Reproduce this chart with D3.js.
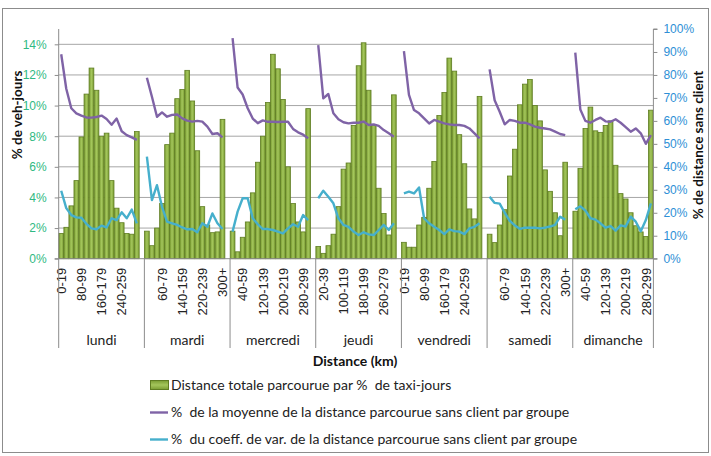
<!DOCTYPE html>
<html><head><meta charset="utf-8">
<script src="https://cdn.jsdelivr.net/npm/d3@7"></script>
<style>
html,body{margin:0;padding:0;background:#fff;}
svg{display:block;font-family:Lato,"Open Sans",sans-serif;}
</style></head>
<body>
<svg id="c" width="711" height="456"></svg>
<script>
// ---------- DATA ----------
const days = ["lundi","mardi","mercredi","jeudi","vendredi","samedi","dimanche"];
const bins = ["0-19","20-39","40-59","60-79","80-99","100-119","120-139","140-159","160-179","180-199","200-219","220-239","240-259","260-279","280-299","300+"];

// Distance totale parcourue par % de taxi-jours (left axis, %)
const distLundi    = [1.65,2.05,3.45,5.1,7.95,10.75,12.45,11.0,8.0,8.2,5.1,3.3,2.35,1.65,1.6,8.3];
const distMardi    = [1.8,0.85,2.0,3.6,7.45,8.2,10.45,11.05,12.3,10.3,7.05,3.4,2.2,1.7,1.75,9.1];
const distMercredi = [1.8,0.45,1.4,2.4,4.3,6.3,8.0,10.2,13.35,12.4,10.4,6.0,3.6,2.4,1.75,9.8];
const distJeudi    = [0.8,0.35,0.85,1.6,3.4,5.85,6.25,8.7,12.6,14.1,11.0,8.7,4.6,2.95,1.55,10.7];
const distVendredi = [1.07,0.75,0.75,2.2,2.7,4.6,6.35,9.35,10.85,13.1,12.25,8.1,6.2,3.25,2.6,10.6];
const distSamedi   = [1.6,1.05,2.2,3.2,5.4,7.15,10.05,11.4,11.7,10.0,9.0,5.8,4.4,3.0,1.5,6.3];
const distDimanche = [3.1,5.9,8.5,9.9,8.35,8.25,8.7,9.0,6.1,4.25,3.9,3.0,2.15,1.75,1.45,9.7];

// % de la moyenne de la distance parcourue sans client par groupe (right axis, %)
const moyLundi    = [89,74,65.5,63.3,62.3,61.5,61.4,61.7,62.3,60.8,58.3,61,55.5,53.8,52.8,51.7];
const moyMardi    = [78.8,70.5,61.8,63.7,61.8,62.6,62.8,61.1,60.1,59.7,60,59.7,57.5,54.3,54.6,52.8];
const moyMercredi = [96,74.5,71.5,65.5,61,59,60.2,59.6,59.6,59.5,59.6,59.6,56.5,55,54,52.4];
const moyJeudi    = [93,69.8,71.7,63.3,60.7,59.4,58.9,59.2,59.2,59.7,58.2,58.5,57.8,56,54.6,53.1];
const moyVendredi = [90.4,71.3,64.7,63.3,61.1,58.9,60.4,59.7,58.9,58.5,58.2,58.2,57.8,56.7,54.6,52.4];
const moySamedi   = [82.4,69,64,58.5,60.4,60,59.2,59.2,58.5,57.5,57,56.7,56.3,55.3,54.3,53.8];
const moyDimanche = [89.7,65,60,59.2,60.4,61.4,59.8,59.6,60.7,59.2,57.3,55.3,56.7,54.6,50,53.8];

// % du coeff. de var. de la distance parcourue sans client par groupe (right axis, %)
const cvLundi    = [29.6,22,19,18,17.8,15.2,13.2,12.8,14.4,13.6,17.6,16.8,20.2,17.6,21.4,15.4];
const cvMardi    = [44.4,25.5,32,22.6,16.1,15.4,14.7,13.6,12.8,12.9,11.5,15.4,13.9,19.7,15.4,12.9];
const cvMercredi = [11.8,20.5,26.3,26.3,17.6,15,12.9,12.9,12.5,11.8,11,13.2,15,13.9,19,16.8];
const cvJeudi    = [26.3,29.6,27,24.1,17.6,14.7,13.9,11.8,10.3,11.5,10.6,10.3,12.5,14.7,12.5,15.4];
const cvVendredi = [28.4,29.2,28.4,31,17.6,15.4,13.9,12.5,10.7,12.8,12,11.8,10.7,13.2,13.9,15.4];
const cvSamedi   = [27,24.3,24,20,16.5,14.5,13,13.5,13.5,13.5,13.2,13.5,14,14.7,18.3,17];
const cvDimanche = [21.5,22.8,21,17.6,17,15.4,13.5,14.2,12.2,14.5,14,18.3,16.1,12,16.8,24.1];

const leftTicks  = [0,2,4,6,8,10,12,14];
const rightTicks = [0,10,20,30,40,50,60,70,80,90,100];
const legendLabels = [
  "Distance totale parcourue par %  de taxi-jours",
  "%  de la moyenne de la distance parcourue sans client par groupe",
  "%  du coeff. de var. de la distance parcourue sans client par groupe"
];

const distAll = [distLundi,distMardi,distMercredi,distJeudi,distVendredi,distSamedi,distDimanche];
const moyAll  = [moyLundi,moyMardi,moyMercredi,moyJeudi,moyVendredi,moySamedi,moyDimanche];
const cvAll   = [cvLundi,cvMardi,cvMercredi,cvJeudi,cvVendredi,cvSamedi,cvDimanche];

// ---------- CATEGORY KEYS (each day has a trailing blank slot except the last) ----------
const keys = [];
days.forEach((d,di)=>{
  bins.forEach(b=>keys.push(d+"|"+b));
  if(di<days.length-1) keys.push(d+"|");
});

// ---------- LAYOUT ----------
const svg = d3.select("#c");
const L = 58.7, R = 653.4, T = 29, B = 258.7;
const COL_MOY = "#7f63a6", COL_CV = "#46afcc";
const COL_LT = "#2fb982", COL_RT = "#2e8fd6";

svg.append("rect").attr("x",2.5).attr("y",8.5).attr("width",706).attr("height",444)
  .attr("fill","#fff").attr("stroke","#8c8c8c");

const defs = svg.append("defs");
const g1 = defs.append("linearGradient").attr("id","barGrad").attr("x1","0").attr("x2","1").attr("y1","0").attr("y2","0");
g1.append("stop").attr("offset","0%").attr("stop-color","#7a9d32");
g1.append("stop").attr("offset","50%").attr("stop-color","#a4c65c");
g1.append("stop").attr("offset","100%").attr("stop-color","#7a9d32");
const g2 = defs.append("linearGradient").attr("id","legGrad").attr("x1","0").attr("x2","0").attr("y1","0").attr("y2","1");
g2.append("stop").attr("offset","0%").attr("stop-color","#7a9d32");
g2.append("stop").attr("offset","50%").attr("stop-color","#a4c65c");
g2.append("stop").attr("offset","100%").attr("stop-color","#7a9d32");

const x = d3.scaleBand().domain(keys).range([L,R]).paddingInner(0.06).paddingOuter(0.03);
const yL = d3.scaleLinear().domain([0,15]).range([B,T]);
const yR = d3.scaleLinear().domain([0,100]).range([B,T]);

// gridlines
svg.append("g").selectAll("line").data(leftTicks.filter(t=>t>0)).join("line")
  .attr("x1",L).attr("x2",R).attr("y1",d=>yL(d)).attr("y2",d=>yL(d))
  .attr("stroke","#a6a6a6").attr("stroke-width",1);

// bars
const barData = [];
days.forEach((d,di)=>bins.forEach((b,bi)=>barData.push({k:d+"|"+b, v:distAll[di][bi]})));
svg.append("g").selectAll("rect").data(barData).join("rect")
  .attr("x",d=>x(d.k)).attr("width",x.bandwidth())
  .attr("y",d=>yL(d.v)).attr("height",d=>B-yL(d.v))
  .attr("fill","url(#barGrad)").attr("stroke","#5f7d22").attr("stroke-width",0.8);

// lines
const line = d3.line().x(d=>x(d.k)+x.bandwidth()/2).y(d=>yR(d.v));
days.forEach((d,di)=>{
  const m = bins.map((b,bi)=>({k:d+"|"+b, v:moyAll[di][bi]}));
  const c = bins.map((b,bi)=>({k:d+"|"+b, v:cvAll[di][bi]}));
  svg.append("path").datum(m).attr("d",line).attr("fill","none").attr("stroke",COL_MOY)
    .attr("stroke-width",2.4).attr("stroke-linejoin","round");
  svg.append("path").datum(c).attr("d",line).attr("fill","none").attr("stroke",COL_CV)
    .attr("stroke-width",2.4).attr("stroke-linejoin","round");
});

// left axis
const axL = svg.append("g").attr("transform",`translate(${L},0)`)
  .call(d3.axisLeft(yL).tickValues(leftTicks).tickFormat(d=>d+"%").tickSize(4).tickPadding(8));
axL.select(".domain").attr("stroke","#8c8c8c").attr("d",`M-4,${B}H0V${T}`);
axL.selectAll(".tick line").attr("stroke","#8c8c8c");
axL.selectAll("text").attr("fill",COL_LT).style("font-size","12px");

// right axis
const axR = svg.append("g").attr("transform",`translate(${R},0)`)
  .call(d3.axisRight(yR).tickValues(rightTicks).tickFormat(d=>d+"%").tickSize(4).tickPadding(6));
axR.select(".domain").attr("stroke","#8c8c8c").attr("d",`M4,${B}H0V${T}H4`);
axR.selectAll(".tick line").attr("stroke","#8c8c8c");
axR.selectAll("text").attr("fill",COL_RT).style("font-size","12px");

// bottom axis
const labelKeys = keys.filter((k,i)=>i%4===0 && k.split("|")[1]!=="");
const axB = svg.append("g").attr("transform",`translate(0,${B})`)
  .call(d3.axisBottom(x).tickValues(labelKeys).tickFormat(k=>k.split("|")[1]).tickSize(0));
axB.select(".domain").attr("stroke","#8c8c8c").attr("d",`M${L},0H${R}`);
axB.selectAll("text").attr("fill","#222").style("font-size","13px")
  .attr("text-anchor","end").attr("x",0).attr("y",0).attr("dy","0.36em")
  .attr("transform","translate(0,9) rotate(-90)");

// day dividers & labels
const step = x.step();
const bounds = days.map(d=>x(d+"|"+bins[0]) - (step - x.bandwidth())/2);
bounds.push(R);
bounds[0] = L;
svg.append("g").selectAll("line").data(bounds).join("line")
  .attr("x1",d=>d).attr("x2",d=>d).attr("y1",B).attr("y2",348)
  .attr("stroke","#8c8c8c").attr("stroke-width",1);
svg.append("g").selectAll("text").data(days).join("text")
  .attr("x",(d,i)=>(bounds[i]+bounds[i+1])/2).attr("y",345)
  .attr("text-anchor","middle").attr("fill","#222").style("font-size","14px").text(d=>d);

// titles
svg.append("text").attr("x",355).attr("y",366).attr("text-anchor","middle")
  .style("font-size","14px").style("font-weight","bold").attr("fill","#111").text("Distance (km)");
svg.append("text").attr("transform","translate(22,115) rotate(-90)").attr("text-anchor","middle")
  .style("font-size","13.5px").style("font-weight","bold").attr("fill","#111").text("% de veh-jours");
svg.append("text").attr("transform","translate(703,145) rotate(-90)").attr("text-anchor","middle")
  .style("font-size","13.5px").style("font-weight","bold").attr("fill","#111").text("% de distance sans client");

// legend
const leg = svg.append("g");
leg.append("rect").attr("x",150.5).attr("y",380.5).attr("width",18).attr("height",9)
  .attr("fill","url(#legGrad)").attr("stroke","#5f7d22");
leg.append("line").attr("x1",150).attr("x2",168).attr("y1",412.5).attr("y2",412.5).attr("stroke",COL_MOY).attr("stroke-width",2.4);
leg.append("line").attr("x1",150).attr("x2",168).attr("y1",439.5).attr("y2",439.5).attr("stroke",COL_CV).attr("stroke-width",2.4);
leg.selectAll("text").data(legendLabels).join("text")
  .attr("x",171).attr("y",(d,i)=>389.5+i*27).attr("fill","#222").style("font-size","14px")
  .style("white-space","pre").attr("xml:space","preserve").text(d=>d);
</script>
</body></html>
